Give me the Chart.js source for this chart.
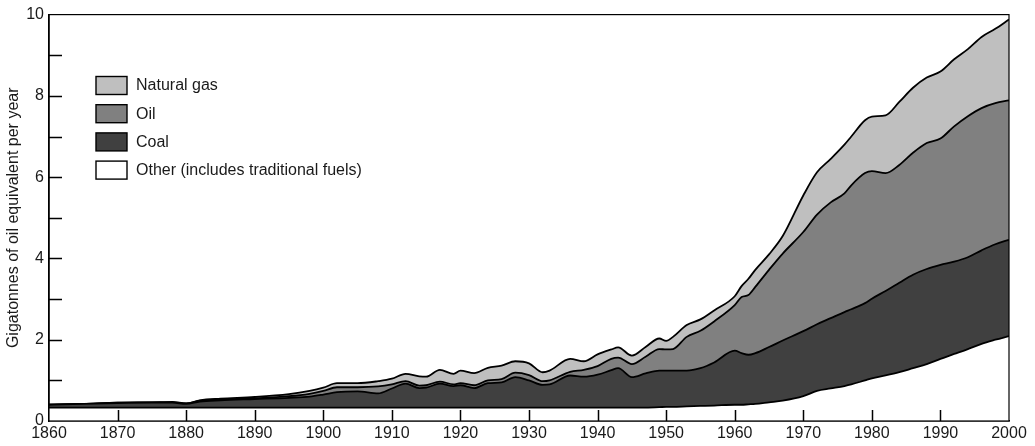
<!DOCTYPE html>
<html>
<head>
<meta charset="utf-8">
<script src="https://cdn.jsdelivr.net/npm/chart.js@4/dist/chart.umd.min.js"></script>
<style>
    html, body { margin: 0; padding: 0; background: #fff; }
</style>
</head>
<body>
<canvas id="energyChart" width="1035" height="446"></canvas>
<script>
// world primary energy, gigatonnes of oil equivalent per year
var years = [1860, 1865, 1870, 1875, 1878, 1880, 1882, 1885, 1890, 1895,
             1898, 1900, 1902, 1905, 1908, 1910, 1912, 1914, 1915, 1917,
             1919, 1920, 1922, 1924, 1926, 1928, 1930, 1932, 1933, 1936,
             1938, 1940, 1942, 1943, 1945, 1947, 1949, 1950, 1951, 1953,
             1955, 1957, 1960, 1961, 1962, 1963, 1965, 1967, 1970, 1972,
             1974, 1976, 1977, 1979, 1980, 1982, 1984, 1986, 1988, 1990,
             1992, 1994, 1996, 1998, 2000];

var otherFuels = [0.33, 0.33, 0.33, 0.33, 0.33, 0.33, 0.33, 0.33, 0.33, 0.33,
                  0.33, 0.33, 0.33, 0.33, 0.33, 0.33, 0.33, 0.33, 0.33, 0.33,
                  0.33, 0.33, 0.33, 0.33, 0.33, 0.33, 0.33, 0.33, 0.33, 0.33,
                  0.33, 0.33, 0.33, 0.33, 0.33, 0.33, 0.34, 0.35, 0.35, 0.36,
                  0.37, 0.38, 0.40, 0.40, 0.41, 0.42, 0.46, 0.50, 0.61, 0.74,
                  0.80, 0.86, 0.90, 1.00, 1.05, 1.12, 1.20, 1.30, 1.40, 1.53,
                  1.65, 1.77, 1.90, 2.00, 2.09];

var coal = [0.07, 0.09, 0.11, 0.12, 0.12, 0.09, 0.15, 0.18, 0.21, 0.24,
            0.27, 0.32, 0.38, 0.40, 0.35, 0.47, 0.59, 0.48, 0.49, 0.59,
            0.53, 0.55, 0.48, 0.60, 0.62, 0.75, 0.67, 0.56, 0.57, 0.79,
            0.76, 0.81, 0.92, 0.97, 0.75, 0.84, 0.90, 0.89, 0.89, 0.88,
            0.93, 1.06, 1.33, 1.27, 1.22, 1.25, 1.36, 1.48, 1.60, 1.64,
            1.73, 1.82, 1.85, 1.90, 1.96, 2.08, 2.20, 2.30, 2.34, 2.31,
            2.27, 2.26, 2.30, 2.35, 2.37];

var oil = [0.00, 0.00, 0.01, 0.01, 0.01, 0.01, 0.02, 0.02, 0.02, 0.04,
           0.07, 0.09, 0.12, 0.10, 0.17, 0.10, 0.06, 0.06, 0.06, 0.05,
           0.04, 0.05, 0.07, 0.07, 0.08, 0.11, 0.13, 0.09, 0.10, 0.09,
           0.17, 0.21, 0.28, 0.26, 0.32, 0.41, 0.53, 0.52, 0.53, 0.83,
           0.92, 1.01, 1.12, 1.38, 1.47, 1.63, 1.90, 2.14, 2.44, 2.70,
           2.85, 2.92, 3.05, 3.20, 3.14, 2.90, 2.90, 3.00, 3.10, 3.11,
           3.33, 3.47, 3.50, 3.47, 3.43];

var naturalGas = [0.00, 0.00, 0.00, 0.00, 0.01, 0.00, 0.01, 0.02, 0.03, 0.05,
                  0.07, 0.08, 0.10, 0.10, 0.13, 0.14, 0.18, 0.23, 0.21, 0.29,
                  0.26, 0.31, 0.30, 0.31, 0.33, 0.28, 0.29, 0.22, 0.24, 0.32,
                  0.21, 0.29, 0.23, 0.25, 0.21, 0.24, 0.26, 0.21, 0.30, 0.29,
                  0.28, 0.27, 0.22, 0.27, 0.40, 0.42, 0.38, 0.43, 0.90, 1.04,
                  1.07, 1.20, 1.20, 1.30, 1.34, 1.42, 1.55, 1.60, 1.61, 1.65,
                  1.65, 1.65, 1.75, 1.83, 1.99];

var labelledValues = [0, 2, 4, 6, 8, 10];

function points(values) {
    return years.map(function (yr, i) {
        return { x: yr, y: values[i] };
    });
}

function layer(label, values, colour, fill) {
    return {
        label: label,
        data: points(values),
        backgroundColor: colour,
        borderColor: '#000',
        borderWidth: 1.8,
        pointRadius: 0,
        cubicInterpolationMode: 'monotone',
        fill: fill
    };
}

// inward tick marks and the closed frame round the plot
var frameTicks = {
    id: 'frameTicks',
    afterDatasetsDraw: function (chart) {
        var ctx = chart.ctx;
        var area = chart.chartArea;
        var xs = chart.scales.x;
        var ys = chart.scales.y;
        ctx.save();
        ctx.strokeStyle = '#000';
        ctx.lineWidth = 1.2;
        ctx.strokeRect(area.left, area.top, area.right - area.left, area.bottom - area.top);
        ctx.lineWidth = 1.5;
        ctx.beginPath();
        xs.ticks.forEach(function (t) {
            if (t.value <= xs.min || t.value >= xs.max) return;
            var px = Math.round(xs.getPixelForValue(t.value)) + 0.5;
            ctx.moveTo(px, area.bottom);
            ctx.lineTo(px, area.bottom - 11);
        });
        ys.ticks.forEach(function (t) {
            if (t.value <= ys.min || t.value >= ys.max) return;
            var py = Math.round(ys.getPixelForValue(t.value)) + 0.5;
            ctx.moveTo(area.left, py);
            ctx.lineTo(area.left + 13, py);
        });
        ctx.stroke();
        ctx.restore();
    }
};

// legend box inside the plot, top layer first
var boxLegend = {
    id: 'boxLegend',
    afterDraw: function (chart) {
        var ctx = chart.ctx;
        var sets = chart.data.datasets.slice().reverse();
        ctx.save();
        ctx.font = '16px "Liberation Sans", Arial, sans-serif';
        ctx.textBaseline = 'middle';
        sets.forEach(function (ds, i) {
            var top = 76.5 + i * 28.2;
            ctx.fillStyle = ds.backgroundColor;
            ctx.fillRect(96, top, 31, 18);
            ctx.strokeStyle = '#000';
            ctx.lineWidth = 1.4;
            ctx.strokeRect(96, top, 31, 18);
            ctx.fillStyle = '#1a1a1a';
            ctx.fillText(ds.label, 136, top + 9.5);
        });
        ctx.restore();
    }
};

var ctx_ = document.getElementById('energyChart').getContext('2d');
var energyChart = new Chart(ctx_, {
    type: 'line',
    data: {
        datasets: [
            layer('Other (includes traditional fuels)', otherFuels, '#ffffff', 'origin'),
            layer('Coal', coal, '#404040', '-1'),
            layer('Oil', oil, '#808080', '-1'),
            layer('Natural gas', naturalGas, '#bfbfbf', '-1')
        ]
    },
    options: {
        responsive: false,
        animation: false,
        layout: { padding: { top: 10, right: 26, left: 0, bottom: 0 } },
        plugins: {
            legend: { display: false },
            tooltip: { enabled: false }
        },
        scales: {
            x: {
                type: 'linear',
                min: 1860,
                max: 2000,
                grid: { drawOnChartArea: false, drawTicks: false },
                border: { color: '#000', width: 1.5 },
                ticks: {
                    stepSize: 10,
                    padding: 3,
                    color: '#1a1a1a',
                    font: { family: '"Liberation Sans", Arial, sans-serif', size: 16 },
                    callback: function (v) { return String(v); }
                },
                afterFit: function (scale) { scale.height = 25; }
            },
            y: {
                stacked: true,
                min: 0,
                max: 10,
                grid: { drawOnChartArea: false, drawTicks: false },
                border: { color: '#000', width: 1.5 },
                ticks: {
                    stepSize: 1,
                    padding: 5,
                    color: '#1a1a1a',
                    font: { family: '"Liberation Sans", Arial, sans-serif', size: 16 },
                    callback: function (v) {
                        return labelledValues.indexOf(v) >= 0 ? String(v) : '';
                    }
                },
                title: {
                    display: true,
                    text: 'Gigatonnes of oil equivalent per year',
                    color: '#1a1a1a',
                    font: { family: '"Liberation Sans", Arial, sans-serif', size: 16 },
                    padding: { top: 4, bottom: 4 }
                },
                afterFit: function (scale) { scale.width = 49; }
            }
        }
    },
    plugins: [frameTicks, boxLegend]
});
</script>
</body>
</html>
